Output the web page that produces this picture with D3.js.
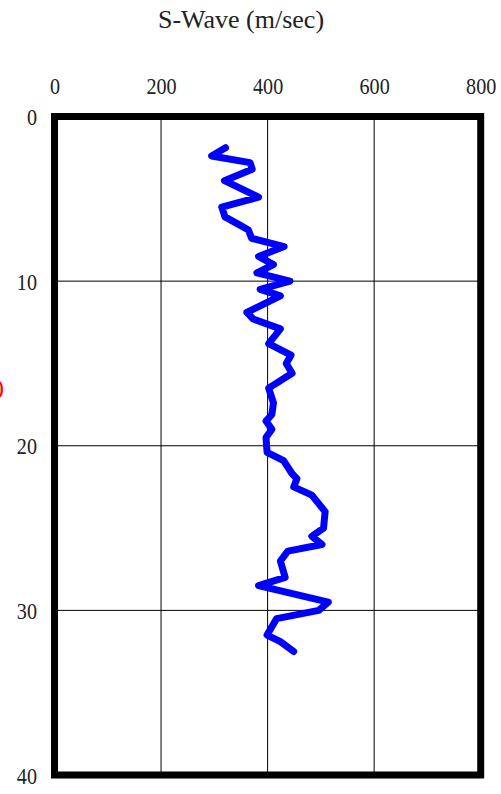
<!DOCTYPE html>
<html>
<head>
<meta charset="utf-8">
<script src="https://cdn.jsdelivr.net/npm/d3@7"></script>
<style>
  html, body { margin: 0; padding: 0; background: #fff; }
  svg { display: block; }
</style>
</head>
<body>
<svg id="chart" width="501" height="794"></svg>
<script>
// ---- data ----
const depths = [1.9, 2.4, 2.8, 3.2, 3.9, 4.9, 5.5, 6.1, 6.6, 6.9, 7.4, 7.9, 8.5, 9.0, 9.5, 10.0, 10.5, 10.9, 11.9, 12.3, 12.9, 13.8, 14.5, 15.0, 15.6, 16.5, 17.4, 18.1, 18.5, 19.0, 19.5, 20.4, 20.9, 21.7, 22.0, 22.5, 23.0, 24.0, 25.0, 25.5, 26.0, 26.4, 27.0, 28.0, 28.5, 29.5, 30.0, 30.5, 31.5, 31.9, 32.5];
const vs = [321, 295, 367, 371, 319, 383, 314, 320, 348, 364, 370, 431, 383, 411, 380, 442, 386, 424, 361, 373, 424, 402, 444, 435, 446, 402, 411, 408, 397, 408, 397, 399, 430, 446, 455, 449, 483, 508, 505, 483, 502, 438, 424, 433, 383, 514, 496, 417, 399, 424, 449];
const xTicks = [0, 200, 400, 600, 800];
const yTicks = [0, 10, 20, 30, 40];
const title = "S-Wave (m/sec)";
const yTitle = "Depth (m)";

// ---- layout ----
const svg = d3.select("#chart");
const mLeft = 54.5, mRight = 480.7, mTop = 116.5, mBottom = 775;
const x = d3.scaleLinear().domain([0, 800]).range([mLeft, mRight]);
const y = d3.scaleLinear().domain([0, 40]).range([mTop, mBottom]);
const fontFam = "'Liberation Serif', 'DejaVu Serif', serif";

// title
svg.append("text")
  .attr("x", 241).attr("y", 28)
  .attr("text-anchor", "middle")
  .attr("font-family", fontFam)
  .attr("font-size", 26)
  .attr("fill", "#222")
  .text(title);

// clipped red y title at far left (as in the reference)
svg.append("text")
  .attr("x", 4).attr("y", 395)
  .attr("text-anchor", "end")
  .attr("font-family", fontFam)
  .attr("font-size", 24)
  .attr("fill", "#ff0000")
  .text(yTitle);

// gridlines
const grid = svg.append("g");
grid.selectAll("line.vx").data(xTicks.slice(1, -1)).join("line")
  .attr("x1", d => x(d)).attr("x2", d => x(d))
  .attr("y1", mTop).attr("y2", mBottom)
  .attr("stroke", "#000").attr("stroke-width", 1);
grid.selectAll("line.hy").data(yTicks.slice(1, -1)).join("line")
  .attr("x1", mLeft).attr("x2", mRight)
  .attr("y1", d => y(d)).attr("y2", d => y(d))
  .attr("stroke", "#000").attr("stroke-width", 1);

// axes (labels only)
const xAxis = svg.append("g")
  .attr("transform", `translate(0, 94)`)
  .call(d3.axisTop(x).tickValues(xTicks).tickSize(0).tickPadding(0).tickFormat(d3.format("d")));
const yAxis = svg.append("g")
  .attr("transform", `translate(37, 0)`)
  .call(d3.axisLeft(y).tickValues(yTicks).tickSize(0).tickPadding(0).tickFormat(d3.format("d")));
[xAxis, yAxis].forEach(g => {
  g.select(".domain").remove();
  g.selectAll("text")
    .attr("font-family", fontFam)
    .attr("font-size", 24)
    .attr("fill", "#222");
});
xAxis.selectAll(".tick text").attr("dy", 0)
  .attr("transform", "scale(0.84,1)");
yAxis.selectAll(".tick text").attr("dy", "0.34em")
  .attr("transform", "scale(0.84,1)");

// data line
const line = d3.line()
  .x((d, i) => x(vs[i]))
  .y(d => y(d));
svg.append("path")
  .datum(depths)
  .attr("d", line)
  .attr("fill", "none")
  .attr("stroke", "#0000ff")
  .attr("stroke-width", 7)
  .attr("stroke-linejoin", "round")
  .attr("stroke-linecap", "round");

// frame
svg.append("rect")
  .attr("x", mLeft).attr("y", mTop)
  .attr("width", mRight - mLeft).attr("height", mBottom - mTop)
  .attr("fill", "none")
  .attr("stroke", "#000")
  .attr("stroke-width", 7);
</script>
</body>
</html>
